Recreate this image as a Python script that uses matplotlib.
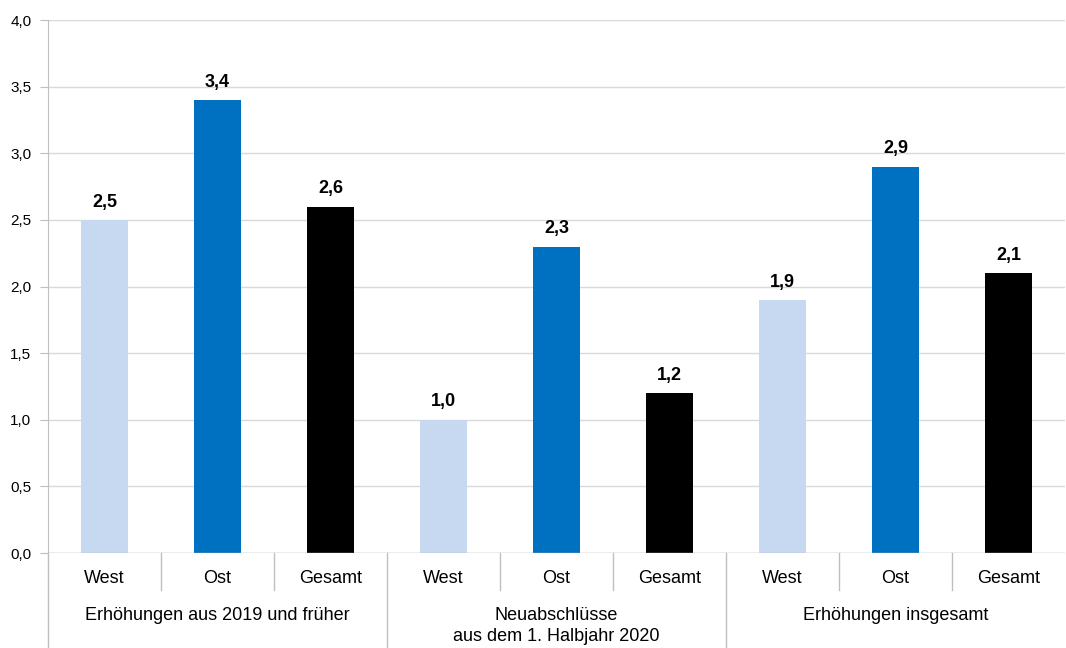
import matplotlib
matplotlib.use("Agg")
import matplotlib.pyplot as plt
import matplotlib.transforms as mtransforms
import numpy as np

plt.rcParams['font.family'] = ['Liberation Sans', 'DejaVu Sans']

# data
groups = ["Erhöhungen aus 2019 und früher",
          "Neuabschlüsse\naus dem 1. Halbjahr 2020",
          "Erhöhungen insgesamt"]
regions = ["West", "Ost", "Gesamt"]
values = [2.5, 3.4, 2.6,
          1.0, 2.3, 1.2,
          1.9, 2.9, 2.1]
colors = ["#C6D9F1", "#0070C0", "#000000"]

fig = plt.figure(figsize=(10.66, 6.48), dpi=100)
ax = fig.add_axes([0.045, 0.1466, 0.954, 0.8225])

x = np.arange(len(values)) + 0.5
bar_colors = [colors[i % 3] for i in range(len(values))]
ax.bar(x, values, width=0.41, color=bar_colors, zorder=3)

for xi, v in zip(x, values):
    ax.text(xi, v + 0.07, f"{v:.1f}".replace(".", ","), ha="center", va="bottom",
            fontsize=13, fontweight="bold")

ax.set_xlim(0, 9)
ax.set_ylim(0, 4)
yt = np.arange(0, 4.01, 0.5)
ax.set_yticks(yt)
ax.set_yticklabels([f"{t:.1f}".replace(".", ",") for t in yt], fontsize=11)
ax.tick_params(axis="y", length=6, color="#bfbfbf", pad=6)
ax.set_xticks([])
ax.grid(axis="y", color="#d9d9d9", linewidth=1, zorder=0)

for s in ["top", "right", "bottom"]:
    ax.spines[s].set_visible(False)
ax.spines["left"].set_color("#bfbfbf")
ax.axhline(0, color="#bfbfbf", linewidth=1, zorder=4)

trans = mtransforms.blended_transform_factory(ax.transData, ax.transAxes)

# sub-category labels
for i, xi in enumerate(x):
    ax.text(xi, -0.047, regions[i % 3], transform=trans, ha="center", va="center",
            fontsize=13)

# short separators between regions, long ones between groups
for k in range(1, 9):
    if k % 3 == 0:
        ax.plot([k, k], [0, -0.18], transform=trans, color="#bfbfbf",
                linewidth=1, clip_on=False)
    else:
        ax.plot([k, k], [0, -0.07], transform=trans, color="#bfbfbf",
                linewidth=1, clip_on=False)
ax.plot([0, 0], [0, -0.18], transform=trans, color="#bfbfbf",
        linewidth=1, clip_on=False)

# group labels
for g, name in enumerate(groups):
    ax.text(3 * g + 1.5, -0.102, name, transform=trans, ha="center", va="top",
            fontsize=13, linespacing=1.3)

fig.savefig("out.png", dpi=100)
